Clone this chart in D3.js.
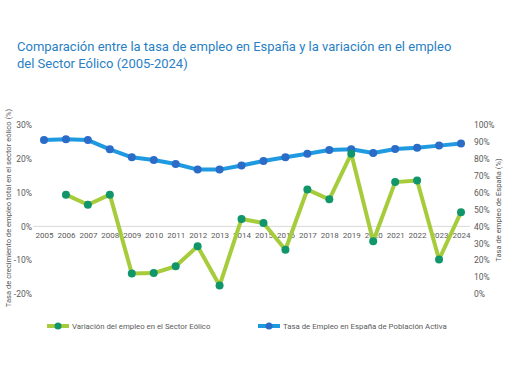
<!DOCTYPE html>
<html>
<head>
<meta charset="utf-8">
<script src="https://cdn.jsdelivr.net/npm/d3@7"></script>
<style>
  body { margin: 0; background: #fff; }
  svg { font-family: Roboto, "Noto Sans", sans-serif; }
</style>
</head>
<body>
<div class="chart"></div>
<script>
const years = d3.range(2005, 2025);
// variación del empleo en el sector eólico (%), eje izquierdo
const eolico = [null, 9.4, 6.4, 9.4, -13.9, -13.8, -11.8, -5.9, -17.5, 2.2,
  1.0, -6.9, 10.9, 8.0, 21.5, -4.4, 13.1, 13.6, -9.8, 4.2];
// tasa de empleo en España (%), eje derecho
const empleo = [91.1, 91.5, 91.1, 85.6, 80.9, 79.3, 76.9, 73.6, 73.6, 76.0,
  78.7, 80.9, 83.0, 85.2, 85.6, 83.4, 85.8, 86.6, 87.8, 89.0];
const leftTicks = [-20, -10, 0, 10, 20, 30];
const rightTicks = d3.range(0, 101, 10);

const width = 510, height = 382;
const svg = d3.select(".chart").append("svg")
  .attr("width", width).attr("height", height);

const x = d3.scalePoint().domain(years).range([44, 461]);
const yL = d3.scaleLinear().domain([-20, 30]).range([294, 125]);
const yR = d3.scaleLinear().domain([0, 100]).range([294, 125]);

// title
svg.append("text").attr("x", 17).attr("y", 51)
  .attr("fill", "#2a7fc4").attr("font-size", 13)
  .text("Comparación entre la tasa de empleo en España y la variación en el empleo");
svg.append("text").attr("x", 17).attr("y", 68)
  .attr("fill", "#2a7fc4").attr("font-size", 13)
  .text("del Sector Eólico (2005-2024)");

// zero line
svg.append("line")
  .attr("x1", 33).attr("x2", 470)
  .attr("y1", yL(0)).attr("y2", yL(0))
  .attr("stroke", "#d9d9d9");

// left axis
const axL = svg.append("g").attr("transform", "translate(32,0)")
  .call(d3.axisLeft(yL).tickValues(leftTicks).tickSize(0).tickPadding(0)
    .tickFormat(d => d + "%"));
axL.select(".domain").remove();
axL.selectAll("text").attr("fill", "#595959").attr("font-size", 8.5)
  .attr("font-family", "Roboto, sans-serif");

// right axis
const axR = svg.append("g").attr("transform", "translate(474,0)")
  .call(d3.axisRight(yR).tickValues(rightTicks).tickSize(0).tickPadding(0)
    .tickFormat(d => d + "%"));
axR.select(".domain").remove();
axR.selectAll("text").attr("fill", "#595959").attr("font-size", 8.5)
  .attr("font-family", "Roboto, sans-serif");

// x axis labels
const axX = svg.append("g").attr("transform", `translate(0,${yL(0)})`)
  .call(d3.axisBottom(x).tickSize(0).tickPadding(6));
axX.select(".domain").remove();
axX.selectAll("text").attr("fill", "#595959").attr("font-size", 8)
  .attr("font-family", "Roboto, sans-serif");

// axis titles
svg.append("text")
  .attr("transform", "translate(11,208) rotate(-90)")
  .attr("text-anchor", "middle").attr("fill", "#595959").attr("font-size", 7.6)
  .text("Tasa de crecimiento de empleo total en el sector eólico (%)");
svg.append("text")
  .attr("transform", "translate(501,210) rotate(-90)")
  .attr("text-anchor", "middle").attr("fill", "#595959").attr("font-size", 7.6)
  .text("Tasa de empleo de España (%)");

// lines
const lineEmpleo = d3.line().x((d, i) => x(years[i])).y(d => yR(d));
const lineEolico = d3.line().defined(d => d != null)
  .x((d, i) => x(years[i])).y(d => yL(d));

svg.append("path").datum(empleo)
  .attr("d", lineEmpleo).attr("fill", "none")
  .attr("stroke", "#1f9ae0").attr("stroke-width", 4).attr("stroke-linejoin", "round");
svg.append("path").datum(eolico)
  .attr("d", lineEolico).attr("fill", "none")
  .attr("stroke", "#a6cc3c").attr("stroke-width", 4).attr("stroke-linejoin", "round");

svg.append("g").selectAll("circle")
  .data(empleo).join("circle")
  .attr("cx", (d, i) => x(years[i])).attr("cy", d => yR(d))
  .attr("r", 4).attr("fill", "#2b6cc8");
svg.append("g").selectAll("circle")
  .data(eolico.map((v, i) => ({ v, yr: years[i] })).filter(d => d.v != null))
  .join("circle")
  .attr("cx", d => x(d.yr)).attr("cy", d => yL(d.v))
  .attr("r", 4).attr("fill", "#10966a");

// legend
const legend = [
  { label: "Variación del empleo en el Sector Eólico", line: "#a6cc3c", dot: "#10966a", x: 47 },
  { label: "Tasa de Empleo en España de Población Activa", line: "#1f9ae0", dot: "#2b6cc8", x: 258 }
];
const lg = svg.append("g").selectAll("g").data(legend).join("g")
  .attr("transform", d => `translate(${d.x},326)`);
lg.append("line").attr("x1", 0).attr("x2", 22)
  .attr("stroke", d => d.line).attr("stroke-width", 4);
lg.append("circle").attr("cx", 11).attr("r", 3.5).attr("fill", d => d.dot);
lg.append("text").attr("x", 25).attr("dy", "0.35em")
  .attr("fill", "#595959").attr("font-size", 7.8)
  .text(d => d.label);
</script>
</body>
</html>
